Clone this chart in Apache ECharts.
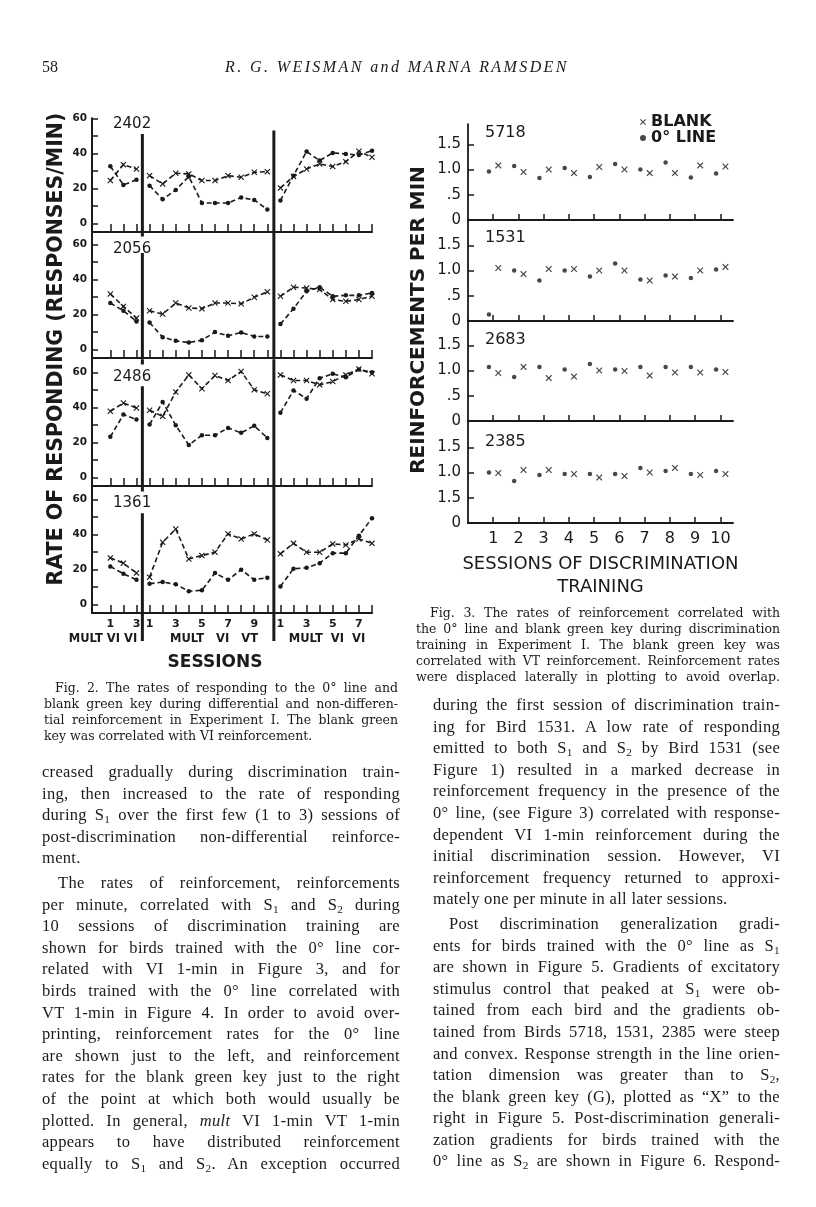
<!DOCTYPE html>
<html lang="en">
<head>
<meta charset="utf-8">
<title>Weisman &amp; Ramsden, p. 58</title>
<script src="https://cdn.jsdelivr.net/npm/echarts@6.0.0/dist/echarts.min.js"></script>
<style>
  html, body { margin: 0; padding: 0; background: #fff; }
  #page { position: relative; width: 816px; height: 1207px; overflow: hidden; background: #fff; }
  #chart { position: absolute; left: 0; top: 0; width: 816px; height: 1207px; }
  .t { position: absolute; color: #1a1a1a; font-family: "Liberation Serif", "DejaVu Serif", serif; }
  .t div { text-align: justify; text-align-last: justify; white-space: nowrap; }
  .t div.end { text-align-last: left; }
  .t div.ind { text-indent: 16px; }
  .body { font-size: 16.5px; line-height: 21.6px; letter-spacing: 0.3px; }
  .cap { font-family: "DejaVu Serif", serif; font-size: 12.5px; line-height: 16px; }
  .hdr { font-size: 16px; line-height: 20px; top: 57px; }
  .s { font-size: 0.68em; vertical-align: -0.3em; line-height: 0; }
  .gap { height: 3px; }
</style>
</head>
<body>
<div id="page">
  <div id="chart"></div>

  <div class="t hdr" style="left:42px">58</div>
  <div class="t hdr" style="left:225px; font-style:italic; letter-spacing:2.4px">R. G. WEISMAN and MARNA RAMSDEN</div>

  <!-- caption, figure 2 -->
  <div class="t cap" style="left:44px; top:680px; width:354px">
    <div style="text-indent:11px">Fig. 2. The rates of responding to the 0° line and</div>
    <div>blank green key during differential and non-differen-</div>
    <div>tial reinforcement in Experiment I. The blank green</div>
    <div class="end">key was correlated with VI reinforcement.</div>
  </div>

  <!-- caption, figure 3 -->
  <div class="t cap" style="left:416px; top:605px; width:364px">
    <div style="text-indent:14px">Fig. 3. The rates of reinforcement correlated with</div>
    <div>the 0° line and blank green key during discrimination</div>
    <div>training in Experiment I. The blank green key was</div>
    <div>correlated with VT reinforcement. Reinforcement rates</div>
    <div>were displaced laterally in plotting to avoid overlap.</div>
  </div>

  <!-- left column -->
  <div class="t body" style="left:42px; top:761px; width:358px">
    <div>creased gradually during discrimination train-</div>
    <div>ing, then increased to the rate of responding</div>
    <div>during S<span class="s">1</span> over the first few (1 to 3) sessions of</div>
    <div>post-discrimination non-differential reinforce-</div>
    <div class="end">ment.</div>
    <div class="gap"></div>
    <div class="ind">The rates of reinforcement, reinforcements</div>
    <div>per minute, correlated with S<span class="s">1</span> and S<span class="s">2</span> during</div>
    <div>10 sessions of discrimination training are</div>
    <div>shown for birds trained with the 0° line cor-</div>
    <div>related with VI 1-min in Figure 3, and for</div>
    <div>birds trained with the 0° line correlated with</div>
    <div>VT 1-min in Figure 4. In order to avoid over-</div>
    <div>printing, reinforcement rates for the 0° line</div>
    <div>are shown just to the left, and reinforcement</div>
    <div>rates for the blank green key just to the right</div>
    <div>of the point at which both would usually be</div>
    <div>plotted. In general, <i>mult</i> VI 1-min VT 1-min</div>
    <div>appears to have distributed reinforcement</div>
    <div>equally to S<span class="s">1</span> and S<span class="s">2</span>. An exception occurred</div>
  </div>

  <!-- right column -->
  <div class="t body" style="left:433px; top:694px; width:347px">
    <div>during the first session of discrimination train-</div>
    <div>ing for Bird 1531. A low rate of responding</div>
    <div>emitted to both S<span class="s">1</span> and S<span class="s">2</span> by Bird 1531 (see</div>
    <div>Figure 1) resulted in a marked decrease in</div>
    <div>reinforcement frequency in the presence of the</div>
    <div>0° line, (see Figure 3) correlated with response-</div>
    <div>dependent VI 1-min reinforcement during the</div>
    <div>initial discrimination session. However, VI</div>
    <div>reinforcement frequency returned to approxi-</div>
    <div class="end">mately one per minute in all later sessions.</div>
    <div class="gap"></div>
    <div class="ind">Post discrimination generalization gradi-</div>
    <div>ents for birds trained with the 0° line as S<span class="s">1</span></div>
    <div>are shown in Figure 5. Gradients of excitatory</div>
    <div>stimulus control that peaked at S<span class="s">1</span> were ob-</div>
    <div>tained from each bird and the gradients ob-</div>
    <div>tained from Birds 5718, 1531, 2385 were steep</div>
    <div>and convex. Response strength in the line orien-</div>
    <div>tation dimension was greater than to S<span class="s">2</span>,</div>
    <div>the blank green key (G), plotted as “X” to the</div>
    <div>right in Figure 5. Post-discrimination generali-</div>
    <div>zation gradients for birds trained with the</div>
    <div>0° line as S<span class="s">2</span> are shown in Figure 6. Respond-</div>
  </div>
</div>

<script>
// ---------- Fig. 2: rate of responding (responses/min) ----------
// 21 sessions in a row: 1-3 mult VI VI, 4-13 mult VI VT, 14-21 mult VI VI
var fig2Birds = ['2402', '2056', '2486', '1361'];
var fig2Ticks = [1,2,3,4,5,6,7,8,9,10,11,12,13,14,15,16,17,18,19,20,21];
var fig2SessionNo = [1,2,3, 1,2,3,4,5,6,7,8,9,10, 1,2,3,4,5,6,7,8];
var fig2LabelPos = [1,3, 4,6,8,10,12, 14,16,18,20];
var fig2PhaseEnds = [3, 13];
var fig2PhaseNames = ['MULT VI VI', 'MULT   VI   VT', 'MULT  VI  VI'];
var fig2YTicks = [0, 10, 20, 30, 40, 50, 60];
var fig2YLabels = [0, 20, 40, 60];

var line2402  = [32.6,21.9,24.8, 21.5,13.7,19.0,26.7,11.6,11.6,11.6,14.7,13.3,7.8, 13.0,27.2,41.0,35.8,40.2,39.6,39.0,41.5];
var blank2402 = [24.4,33.5,31.0, 27.2,22.5,28.6,28.2,24.4,24.4,27.2,26.3,29.1,29.5, 20.2,26.7,31.0,33.9,32.4,35.2,41.1,37.7];
var line2056  = [26.4,22.0,15.9, 15.3,6.9,4.8,3.8,5.2,9.8,7.7,9.6,7.3,7.3, 14.4,23.2,33.1,35.4,30.3,30.8,30.8,32.2];
var blank2056 = [31.6,24.5,17.8, 22.0,20.1,26.4,23.6,23.2,26.4,26.4,26.0,29.7,32.8, 30.3,35.4,35.0,34.1,28.4,27.4,28.4,30.3];
var line2486  = [23.1,35.8,33.0, 30.1,43.0,29.7,18.4,24.0,24.0,28.2,25.4,29.4,22.5, 36.9,49.6,44.9,56.6,59.1,57.2,61.6,60.0];
var blank2486 = [37.7,42.4,39.6, 38.3,34.8,48.7,58.5,50.6,58.1,55.3,60.4,50.0,47.7, 58.5,55.3,55.3,52.8,54.7,58.5,61.9,59.1];
var line1361  = [21.6,17.4,14.0, 11.7,12.7,11.4,7.4,8.0,17.8,14.0,19.7,14.0,15.2, 10.2,20.3,20.8,23.5,29.2,29.2,39.2,49.2];
var blank1361 = [26.5,23.5,17.8, 15.5,35.4,43.0,25.9,27.8,29.7,40.2,37.3,40.2,36.7, 28.8,34.8,29.7,29.7,34.5,33.9,37.3,34.8];

var fig2Line = [line2402, line2056, line2486, line1361];
var fig2Blank = [blank2402, blank2056, blank2486, blank1361];

// ---------- Fig. 3: reinforcements per minute ----------
var fig3Birds = ['5718', '1531', '2683', '2385'];
var fig3Sessions = [1,2,3,4,5,6,7,8,9,10];
var fig3YTickVals = [0, 0.5, 1, 1.5];
var fig3YTickText = ['0', '.5', '1.0', '1.5'];
var fig3YTickTextLast = ['0', '1.5', '1.0', '1.5'];   // as printed on the bottom panel

var line5718  = [0.96,1.07,0.83,1.03,0.85,1.11,1.00,1.14,0.84,0.92];
var blank5718 = [1.08,0.95,1.00,0.93,1.05,1.00,0.93,0.93,1.08,1.06];
var line1531  = [0.13,1.00,0.80,1.00,0.88,1.14,0.82,0.90,0.85,1.02];
var blank1531 = [1.05,0.93,1.03,1.03,1.00,1.00,0.80,0.88,1.00,1.07];
var line2683  = [1.07,0.87,1.07,1.02,1.13,1.02,1.07,1.07,1.07,1.02];
var blank2683 = [0.95,1.07,0.85,0.88,1.00,0.99,0.90,0.96,0.96,0.97];
var line2385  = [1.00,0.83,0.95,0.97,0.97,0.97,1.09,1.03,0.97,1.03];
var blank2385 = [0.99,1.05,1.05,0.97,0.90,0.93,1.00,1.09,0.95,0.97];

var fig3Line = [line5718, line1531, line2683, line2385];
var fig3Blank = [blank5718, blank1531, blank2683, blank2385];

// ---------- layout ----------
var INK = '#1a1a1a';
var X_MARK = 'path://M0,1.3L1.3,0L5,3.7L8.7,0L10,1.3L6.3,5L10,8.7L8.7,10L5,6.3L1.3,10L0,8.7L3.7,5Z';
var f2 = { left: 92, width: 280, px: 1.75, base: [232, 358, 486, 613], max: [60, 67.5, 67.5, 67.5] };
var f3 = { left: 468, width: 265, px: 50.5, base: [220, 321, 421, 523], max: [1.9, 2, 2, 2] };
var dotShift = -0.17, xShift = 0.2;   // lateral displacement used in the original plot

function phaseData(vals) {
    var d = [];
    vals.forEach(function (v, j) {
        d.push([fig2Ticks[j], v]);
        if (fig2PhaseEnds.indexOf(fig2Ticks[j]) >= 0) d.push([fig2Ticks[j] + 0.5, '-']);
    });
    return d;
}

// thick phase separators, gaps left for the bird numbers
function separatorData(i) {
    var lo = i === 3 ? -21 : -5;
    var topA = [51, 55, 52, 52][i];
    var d = [[3.45, lo], [3.45, topA]];
    if (i > 0) d.push([3.45, '-'], [3.45, 64.5], [3.45, 67.5]);
    d.push([13.5, '-'], [13.5, lo], [13.5, i === 0 ? 53 : 67.5]);
    return d;
}

var grid = [], xAxis = [], yAxis = [], series = [];

fig2Birds.forEach(function (bird, i) {
    var h = (f2.max[i] + 5) * f2.px;
    var last = i === fig2Birds.length - 1;
    grid.push({ left: f2.left, width: f2.width, top: f2.base[i] - h, height: h, outerBoundsMode: 'none' });
    xAxis.push({
        gridIndex: i, type: 'value', min: -0.4, max: 21,
        axisLine: { onZero: false, lineStyle: { color: INK, width: 2 } },
        axisTick: { show: true, inside: true, length: 8, customValues: fig2Ticks, lineStyle: { color: INK, width: 1.5 } },
        axisLabel: {
            show: last, customValues: fig2LabelPos, margin: 6,
            formatter: function (v) { return String(fig2SessionNo[v - 1]); },
            color: INK, fontFamily: 'DejaVu Sans', fontWeight: 'bold', fontSize: 11
        },
        splitLine: { show: false }
    });
    yAxis.push({
        gridIndex: i, type: 'value', min: -5, max: f2.max[i],
        axisLine: { show: true, onZero: false, lineStyle: { color: INK, width: 2 } },
        axisTick: { show: true, inside: true, length: 6, customValues: fig2YTicks, lineStyle: { color: INK, width: 1.5 } },
        axisLabel: { customValues: fig2YLabels, margin: 5, color: INK, fontFamily: 'DejaVu Sans', fontWeight: 'bold', fontSize: 10.5 },
        splitLine: { show: false }
    });
    series.push({
        name: bird + ' 0° line', type: 'line', xAxisIndex: i, yAxisIndex: i,
        data: phaseData(fig2Line[i]), symbol: 'circle', symbolSize: 4.5, showAllSymbol: true,
        itemStyle: { color: INK }, lineStyle: { color: INK, width: 1.6, type: [5, 3] },
        clip: false, silent: true, z: 3
    });
    series.push({
        name: bird + ' blank', type: 'line', xAxisIndex: i, yAxisIndex: i,
        data: phaseData(fig2Blank[i]), symbol: X_MARK, symbolSize: 6, showAllSymbol: true,
        itemStyle: { color: INK }, lineStyle: { color: INK, width: 1.6, type: [5, 3] },
        clip: false, silent: true, z: 3
    });
    series.push({
        name: bird + ' phases', type: 'line', xAxisIndex: i, yAxisIndex: i,
        data: separatorData(i), symbol: 'none', lineStyle: { color: INK, width: 3 },
        clip: false, silent: true, z: 2
    });
});

fig3Birds.forEach(function (bird, k) {
    var i = fig2Birds.length + k;
    var h = f3.max[k] * f3.px;
    var last = k === fig3Birds.length - 1;
    var ticksText = last ? fig3YTickTextLast : fig3YTickText;
    grid.push({ left: f3.left, width: f3.width, top: f3.base[k] - h, height: h, outerBoundsMode: 'none' });
    xAxis.push({
        gridIndex: i, type: 'value', min: 0, max: 10.5,
        axisLine: { onZero: false, lineStyle: { color: INK, width: 1.8 } },
        axisTick: { show: true, inside: true, length: 6, customValues: fig3Sessions, lineStyle: { color: INK, width: 1.5 } },
        axisLabel: { show: last, customValues: fig3Sessions, margin: 8, color: INK, fontFamily: 'DejaVu Sans', fontSize: 16 },
        splitLine: { show: false },
        name: last ? 'SESSIONS OF DISCRIMINATION\nTRAINING' : '',
        nameLocation: 'middle', nameGap: 30,
        nameTextStyle: { color: INK, fontFamily: 'DejaVu Sans', fontSize: 18, lineHeight: 23 }
    });
    yAxis.push({
        gridIndex: i, type: 'value', min: 0, max: f3.max[k],
        axisLine: { show: true, onZero: false, lineStyle: { color: INK, width: 1.8 } },
        axisTick: { show: true, inside: true, length: 6, customValues: [0.5, 1, 1.5], lineStyle: { color: INK, width: 1.5 } },
        axisLabel: {
            customValues: fig3YTickVals, margin: 7,
            formatter: function (v) { return ticksText[fig3YTickVals.indexOf(v)]; },
            color: INK, fontFamily: 'DejaVu Sans', fontSize: 15
        },
        splitLine: { show: false }
    });
    series.push({
        name: '0° LINE', type: 'scatter', xAxisIndex: i, yAxisIndex: i,
        data: fig3Line[k].map(function (v, j) { return [fig3Sessions[j] + dotShift, v]; }),
        symbol: 'circle', symbolSize: 4.5, itemStyle: { color: INK }, clip: false, silent: true
    });
    series.push({
        name: 'BLANK', type: 'scatter', xAxisIndex: i, yAxisIndex: i,
        data: fig3Blank[k].map(function (v, j) { return [fig3Sessions[j] + xShift, v]; }),
        symbol: X_MARK, symbolSize: 6.5, itemStyle: { color: INK }, clip: false, silent: true
    });
});

function label(text, x, y, size, extra) {
    var el = {
        type: 'text', x: x, y: y, silent: true,
        style: { text: text, fill: INK, fontFamily: 'DejaVu Sans', fontSize: size, align: 'left', verticalAlign: 'middle' }
    };
    if (extra) {
        Object.keys(extra).forEach(function (key) {
            if (key === 'rotation') el.rotation = extra[key];
            else el.style[key] = extra[key];
        });
    }
    return el;
}

var fig2BirdY = [124, 249, 377, 503];
var fig3BirdY = [133, 238, 340, 442];
var fig2PhaseX = [103, 214, 327];

var graphic = [];
fig2Birds.forEach(function (b, i) { graphic.push(label(b, 113, fig2BirdY[i], 15)); });
fig3Birds.forEach(function (b, k) { graphic.push(label(b, 485, fig3BirdY[k], 16)); });
fig2PhaseNames.forEach(function (p, j) {
    graphic.push(label(p, fig2PhaseX[j], 639, 11.5, { align: 'center', fontWeight: 'bold' }));
});
graphic.push(label('SESSIONS', 215, 663, 17, { align: 'center', fontWeight: 'bold' }));
graphic.push(label('RATE OF RESPONDING (RESPONSES/MIN)', 57, 349, 20.5,
    { align: 'center', fontWeight: 'bold', rotation: Math.PI / 2 }));
graphic.push(label('REINFORCEMENTS PER MIN', 419, 320, 20,
    { align: 'center', fontWeight: 'bold', rotation: Math.PI / 2 }));

var chart = echarts.init(document.getElementById('chart'));
chart.setOption({
    animation: false,
    color: [INK],
    grid: grid,
    xAxis: xAxis,
    yAxis: yAxis,
    series: series,
    graphic: graphic,
    legend: {
        data: [{ name: 'BLANK', icon: X_MARK }, { name: '0° LINE', icon: 'circle' }],
        orient: 'vertical', left: 640, top: 114, itemWidth: 6, itemHeight: 6, itemGap: 0,
        selectedMode: false, padding: 0,
        textStyle: { color: INK, fontFamily: 'DejaVu Sans', fontWeight: 'bold', fontSize: 16, lineHeight: 15 }
    }
});
</script>
</body>
</html>
